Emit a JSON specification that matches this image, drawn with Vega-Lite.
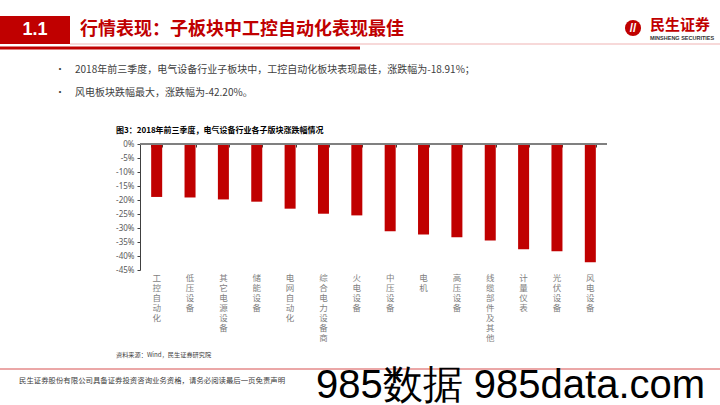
{
  "$schema": "https://vega.github.io/schema/vega-lite/v6.json",
  "width": 467,
  "height": 126,
  "autosize": {"type": "none"},
  "padding": {"left": 140, "top": 144, "right": 113, "bottom": 135},
  "background": "white",
  "config": {"view": {"stroke": null}, "font": "Noto Sans CJK SC", "axis": {"labelOverlap": false}},
  "data": {"values": [
    {"sector": "工控自动化", "change": -18.91},
    {"sector": "低压设备", "change": -19.1},
    {"sector": "其它电源设备", "change": -19.8},
    {"sector": "储能设备", "change": -20.6},
    {"sector": "电网自动化", "change": -23.1},
    {"sector": "综合电力设备商", "change": -24.9},
    {"sector": "火电设备", "change": -25.5},
    {"sector": "中压设备", "change": -31.2},
    {"sector": "电机", "change": -32.3},
    {"sector": "高压设备", "change": -33.3},
    {"sector": "线缆部件及其他", "change": -34.5},
    {"sector": "计量仪表", "change": -37.6},
    {"sector": "光伏设备", "change": -38.3},
    {"sector": "风电设备", "change": -42.2}
  ]},
  "resolve": {"axis": {"x": "independent", "y": "independent"}},
  "layer": [
    {
      "mark": {"type": "bar", "color": "#C00000"},
      "encoding": {
        "x": {"field": "sector", "type": "nominal", "sort": null,
              "scale": {"paddingInner": 0.67, "paddingOuter": 0.335},
              "axis": {"orient": "bottom", "title": null, "domain": false, "ticks": false,
                       "labelAngle": 0, "labelExpr": "split(datum.label, '')",
                       "labelBaseline": "top", "labelLineHeight": 10, "labelFontSize": 8.5,
                       "labelColor": "#7F7F7F", "labelPadding": 3, "labelOverlap": false,
                       "labelFont": "Noto Sans CJK SC"}},
        "y": {"field": "change", "type": "quantitative",
              "scale": {"domain": [-45, 0], "nice": false, "zero": false},
              "axis": {"title": null, "orient": "left", "values": [0, -5, -10, -15, -20, -25, -30, -35, -40, -45],
                       "labelExpr": "datum.value + '%'", "grid": false, "labelOverlap": false,
                       "domain": true, "ticks": true, "domainWidth": 1, "tickWidth": 1,
                       "domainColor": "#404040", "tickColor": "#404040", "tickSize": 3,
                       "labelFontSize": 8, "labelColor": "#595959", "labelPadding": 3,
                       "labelFont": "Noto Sans"}}
      }
    },
    {
      "mark": {"type": "rule", "color": "#808080", "strokeWidth": 1.3},
      "encoding": {"y": {"datum": 0, "type": "quantitative", "axis": null}}
    },
    {
      "mark": {"type": "text", "text": ""},
      "encoding": {
        "x": {"field": "sector", "type": "nominal", "sort": null,
              "axis": {"orient": "top", "title": null, "labels": false, "tickBand": "extent",
                       "tickSize": -3, "tickColor": "#404040", "domain": false}}
      }
    },
    {
      "data": {"values": [{}]},
      "layer": [
        {"mark": {"type": "rect", "x": -140, "x2": -70, "y": -128, "y2": -100, "color": "#C00000"}, "encoding": {}},
        {"mark": {"type": "text", "text": "1.1", "x": -105, "y": -114, "align": "center", "baseline": "middle", "fontSize": 18, "fontWeight": "bold", "color": "white", "font": "Liberation Sans"}, "encoding": {}},
        {"mark": {"type": "text", "text": "行情表现：子板块中工控自动化表现最佳", "x": -60, "y": -114, "align": "left", "baseline": "middle", "fontSize": 18, "fontWeight": "bold", "color": "#C00000"}, "encoding": {}},
        {"mark": {"type": "rect", "x": -70, "x2": 580, "y": -100.5, "y2": -99.5, "color": "#F0B4B4"}, "encoding": {}},
        {"mark": {"type": "rect", "x": -140, "x2": 220, "y": -97.5, "y2": -94.5, "color": "#C00000"}, "encoding": {}},
        {"mark": {"type": "point", "x": 493, "y": -116, "size": 260, "filled": true, "opacity": 1, "color": "#C00000"}, "encoding": {}},
        {"mark": {"type": "text", "text": "//", "x": 493, "y": -116, "align": "center", "baseline": "middle", "fontSize": 12, "fontWeight": "bold", "color": "white", "font": "Liberation Sans"}, "encoding": {}},
        {"mark": {"type": "text", "text": "民生证券", "x": 510, "y": -119, "align": "left", "baseline": "middle", "fontSize": 15, "fontWeight": "bold", "color": "#C00000"}, "encoding": {}},
        {"mark": {"type": "text", "text": "MINSHENG SECURITIES", "x": 510, "y": -106, "align": "left", "baseline": "middle", "fontSize": 5.5, "fontWeight": "bold", "color": "#333333", "font": "Liberation Sans"}, "encoding": {}},
        {"mark": {"type": "text", "text": "•", "x": -80, "y": -74, "align": "center", "baseline": "middle", "fontSize": 10, "color": "#404040"}, "encoding": {}},
        {"mark": {"type": "text", "text": "2018年前三季度，电气设备行业子板块中，工控自动化板块表现最佳，涨跌幅为-18.91%；", "x": -65, "y": -74, "align": "left", "baseline": "middle", "fontSize": 10, "color": "#404040"}, "encoding": {}},
        {"mark": {"type": "text", "text": "•", "x": -80, "y": -51, "align": "center", "baseline": "middle", "fontSize": 10, "color": "#404040"}, "encoding": {}},
        {"mark": {"type": "text", "text": "风电板块跌幅最大，涨跌幅为-42.20%。", "x": -65, "y": -51, "align": "left", "baseline": "middle", "fontSize": 10, "color": "#404040"}, "encoding": {}},
        {"mark": {"type": "text", "text": "图3：2018年前三季度，电气设备行业各子版块涨跌幅情况", "x": -24, "y": -13, "align": "left", "baseline": "middle", "fontSize": 8, "fontWeight": "bold", "color": "#000000"}, "encoding": {}},
        {"mark": {"type": "text", "text": "资料来源：Wind，民生证券研究院", "x": -24, "y": 211, "align": "left", "baseline": "middle", "fontSize": 6.2, "color": "#404040"}, "encoding": {}},
        {"mark": {"type": "rect", "x": -140, "x2": 580, "y": 224.5, "y2": 225.5, "color": "#D85050"}, "encoding": {}},
        {"mark": {"type": "text", "text": "民生证券股份有限公司具备证券投资咨询业务资格，请务必阅读最后一页免责声明", "x": -121, "y": 237, "align": "left", "baseline": "middle", "fontSize": 7.4, "color": "#404040"}, "encoding": {}},
        {"mark": {"type": "text", "text": "985数据 985data.com", "x": 176, "y": 254, "align": "left", "baseline": "alphabetic", "fontSize": 40, "color": "#000000", "font": "Liberation Sans"}, "encoding": {}}
      ]
    }
  ]
}
